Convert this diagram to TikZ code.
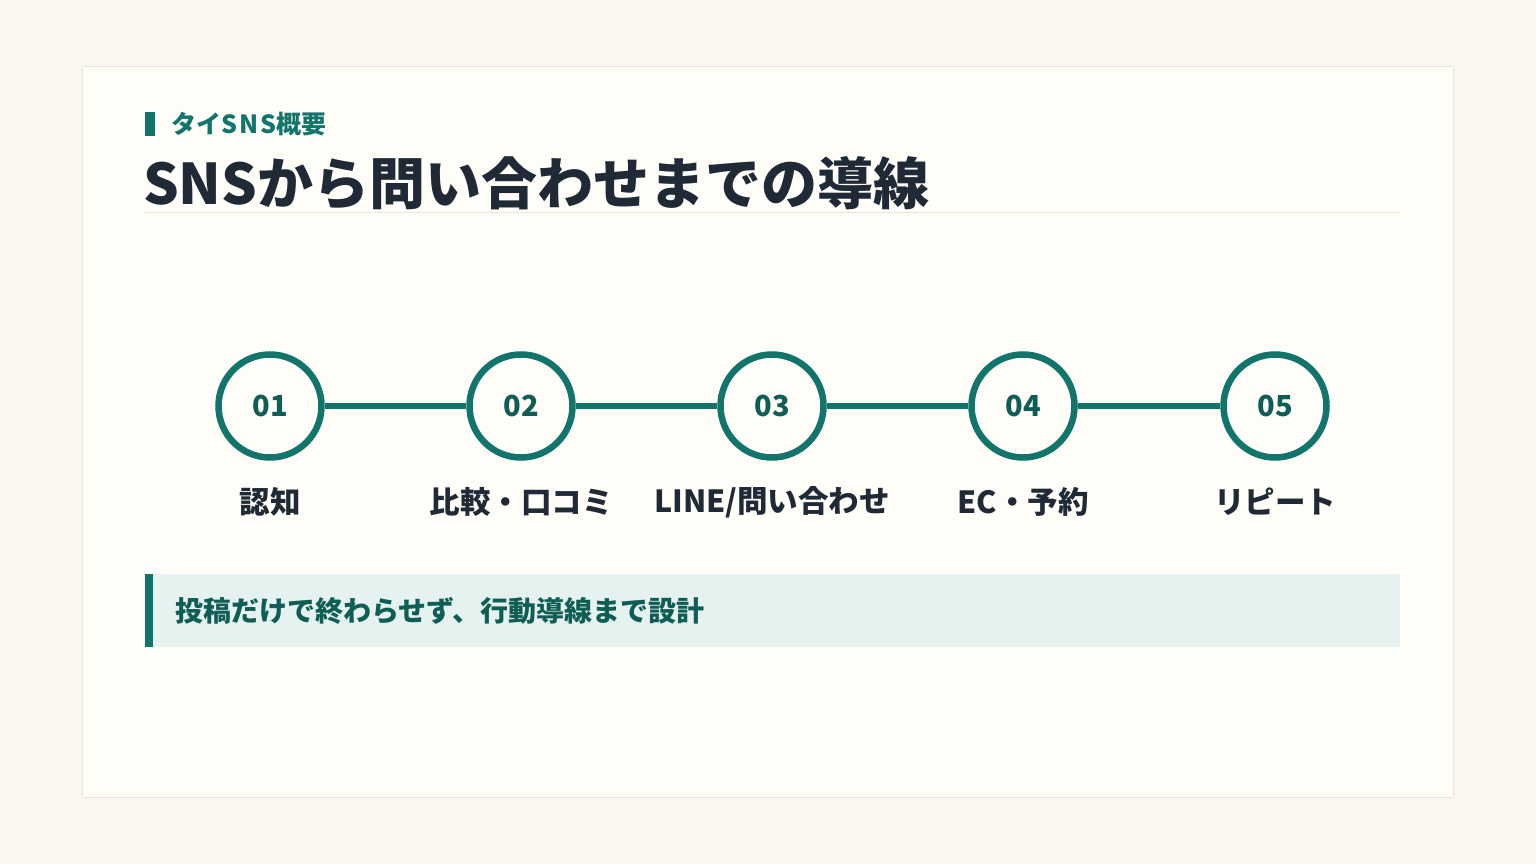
\documentclass[tikz,border=0pt]{standalone}
\usepackage{fontspec}
\setmainfont{Noto Sans CJK JP}
\definecolor{bgc}{HTML}{FAF6F0}
\definecolor{card}{HTML}{FFFDF7}
\definecolor{cardline}{HTML}{EDE5D5}
\definecolor{teal}{HTML}{11756B}
\definecolor{darkteal}{HTML}{0F5E56}
\definecolor{ink}{HTML}{1F2A36}
\definecolor{boxc}{HTML}{E6F2F0}
\tikzset{
 stepcirc/.style={circle,draw=teal,line width=6.5pt,fill=card,minimum size=103pt,inner sep=0pt,font=\fontsize{29}{30}\selectfont\bfseries,text=darkteal},
 steplabel/.style={font=\fontsize{30.5}{32}\selectfont\bfseries,text=ink,anchor=center},
 link/.style={draw=teal,line width=6.5pt}
}
\begin{document}
\begin{tikzpicture}[x=1pt,y=-1pt]
\fill[bgc] (0,0) rectangle (1536,864);
\useasboundingbox (0,0) rectangle (1536,864);
\filldraw[fill=card,draw=cardline,line width=1pt] (82.5,66.5) rectangle (1453.5,797.5);
\fill[teal] (145,112) rectangle (155,136);
\node[anchor=west,text=teal,font=\fontsize{25}{26}\selectfont\bfseries,inner sep=0] (sub) at (171,124) {タイ\addfontfeature{LetterSpace=8}SNS\addfontfeature{LetterSpace=0}概要};
\node[anchor=west,text=ink,font=\fontsize{56}{60}\selectfont\bfseries,inner sep=0] (title) at (143,183) {SNSから問い合わせまでの導線};
\draw[cardline,line width=1pt] (145,212.5) -- (1400,212.5);
\foreach \i/\x/\l in {1/270/{認知},2/521/{比較・口コミ},3/772/{LINE/問い合わせ},4/1023/{EC・予約},5/1275/{リピート}}{
  \node[stepcirc] (c\i) at (\x,406) {0\i};
  \node[steplabel] (l\i) at (\x,502) {\l};
}
\foreach \a/\b in {1/2,2/3,3/4,4/5}{\draw[link] (c\a) -- (c\b);}
\fill[boxc] (145,574) rectangle (1400,647);
\fill[teal] (145,574) rectangle (153,647);
\node[anchor=west,text=darkteal,font=\fontsize{28}{30}\selectfont\bfseries,inner sep=0] (msg) at (175,611) {投稿だけで終わらせず、行動導線まで設計};
\end{tikzpicture}
\end{document}
